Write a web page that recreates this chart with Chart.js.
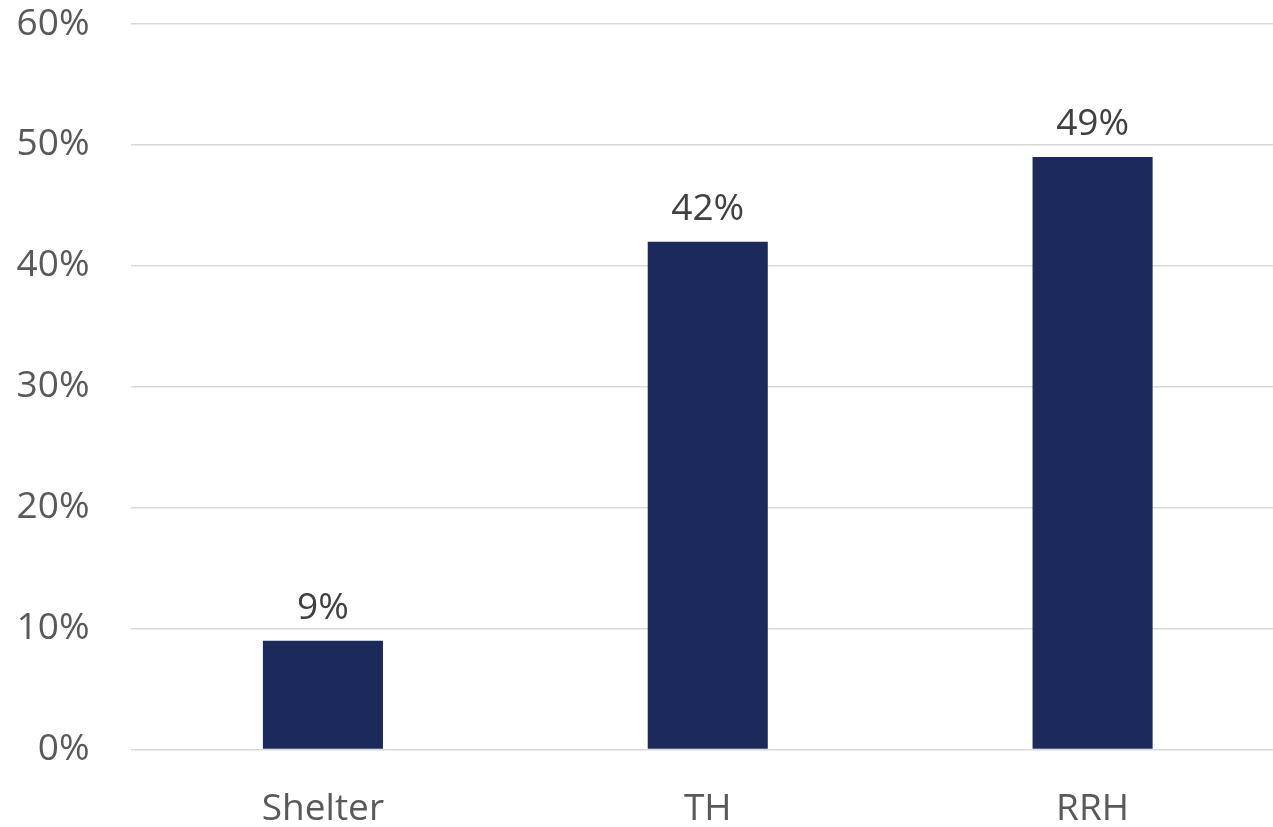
<!DOCTYPE html>
<html>
<head>
<meta charset="utf-8">
<script src="https://cdn.jsdelivr.net/npm/chart.js@4/dist/chart.umd.min.js"></script>
<style>
    html, body { margin: 0; padding: 0; background: #fff; overflow: hidden; }
    #wrap { position: absolute; left: 0; top: 0; width: 1285px; height: 827px; }
</style>
</head>
<body>
<div id="wrap"><canvas id="share-chart"></canvas></div>
<script>
const categories = ['Shelter', 'TH', 'RRH'];
const shares = [9, 42, 49];
const yTicks = [0, 10, 20, 30, 40, 50, 60];

const FONT = "'Open Sans', sans-serif";

/**
 * Writes each bar's value above it
 */
const valueLabels = {
    id: 'valueLabels',
    afterDatasetsDraw(chart) {
        const ctx = chart.ctx;
        const meta = chart.getDatasetMeta(0);
        ctx.save();
        ctx.font = '37px ' + FONT;
        ctx.fillStyle = '#404040';
        ctx.textAlign = 'center';
        ctx.textBaseline = 'alphabetic';
        meta.data.forEach((bar, i) => {
            ctx.fillText(shares[i] + '%', bar.x, bar.y - 22);
        });
        ctx.restore();
    }
};

new Chart(document.getElementById('share-chart'), {
    type: 'bar',
    data: {
        labels: categories,
        datasets: [
            {
                data: shares,
                backgroundColor: '#1b2a5a',
                categoryPercentage: 1,
                barPercentage: 0.312
            }
        ]
    },
    options: {
        responsive: true,
        maintainAspectRatio: false,
        animation: false,
        layout: {
            padding: { top: 24, right: 0, bottom: 0, left: 0 }
        },
        scales: {
            x: {
                grid: { display: false },
                border: { display: false },
                ticks: {
                    color: '#595959',
                    font: { family: FONT, size: 37 },
                    padding: 30
                },
                afterFit(scale) {
                    scale.height = 77.5;
                    scale.paddingLeft = 0;
                    scale.paddingRight = 0;
                }
            },
            y: {
                min: 0,
                max: 60,
                afterBuildTicks(scale) {
                    scale.ticks = yTicks.map(v => ({ value: v }));
                },
                grid: { color: '#d9d9d9', lineWidth: 1.5, drawTicks: false },
                border: { display: false },
                ticks: {
                    color: '#595959',
                    font: { family: FONT, size: 37 },
                    padding: 41,
                    callback: v => v + '%'
                },
                afterFit(scale) {
                    scale.width = 130.5;
                    scale.paddingTop = 0;
                    scale.paddingBottom = 0;
                }
            }
        },
        plugins: {
            legend: { display: false },
            tooltip: { enabled: false }
        }
    },
    plugins: [valueLabels]
});
</script>
</body>
</html>
